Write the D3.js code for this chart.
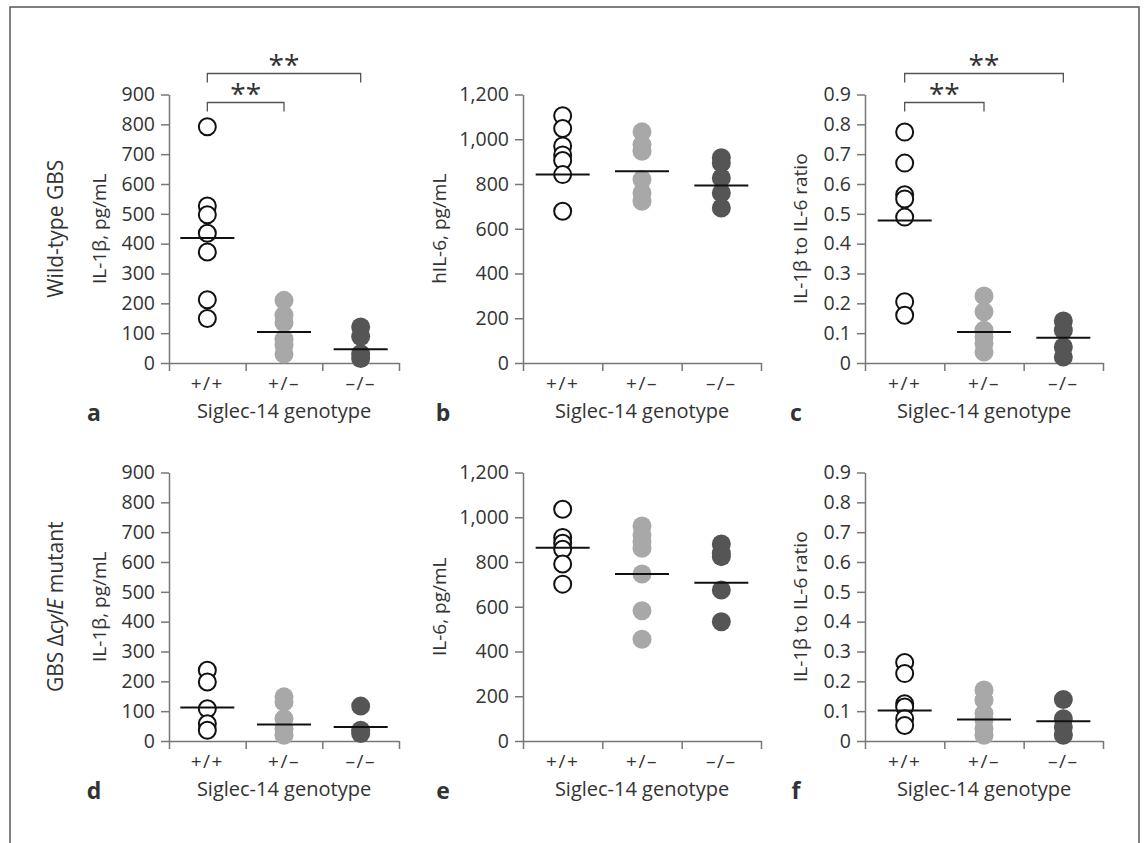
<!DOCTYPE html>
<html>
<head>
<meta charset="utf-8">
<script src="https://cdn.jsdelivr.net/npm/d3@7"></script>
<style>
  body { margin: 0; background: #fff; }
  text { font-family: "Open Sans", "Noto Sans", sans-serif; fill: #333; }
  .axis path, .axis line { stroke: #777; stroke-width: 1.5; }
  .axis text { font-size: 19.5px; fill: #333; }
</style>
</head>
<body>
<div id="chart"></div>
<script>

// genotype categories
const genotypes = ['+/+', '+/\u2013', '\u2013/\u2013'];

// panel a: IL-1b, wild-type GBS
const aWT  = [792, 526, 497, 435, 372, 212, 149];
const aHet = [210, 160, 135, 80, 60, 30];
const aKO  = [121, 89, 31, 15];
const aMed = [419, 104, 46];

// panel b: hIL-6, wild-type GBS
const bWT  = [1105, 1048, 970, 930, 905, 842, 678];
const bHet = [1033, 976, 946, 820, 760, 723];
const bKO  = [917, 894, 827, 760, 693];
const bMed = [842, 857, 793];

// panel c: ratio, wild-type GBS
const cWT  = [0.774, 0.670, 0.564, 0.550, 0.489, 0.205, 0.160];
const cHet = [0.225, 0.172, 0.110, 0.087, 0.065, 0.037];
const cKO  = [0.141, 0.110, 0.054, 0.020];
const cMed = [0.478, 0.104, 0.085];

// panel d: IL-1b, cylE mutant
const dWT  = [237, 198, 108, 58, 36];
const dHet = [148, 131, 75, 41, 19];
const dKO  = [117, 36, 25];
const dMed = [112, 55, 47];

// panel e: IL-6, cylE mutant
const eWT  = [1036, 910, 884, 857, 791, 701];
const eHet = [961, 921, 891, 861, 746, 582, 455];
const eKO  = [881, 839, 824, 675, 533];
const eMed = [864, 746, 707];

// panel f: ratio, cylE mutant
const fWT  = [0.263, 0.226, 0.125, 0.114, 0.075, 0.052];
const fHet = [0.171, 0.137, 0.092, 0.070, 0.041, 0.019];
const fKO  = [0.139, 0.075, 0.047, 0.019];
const fMed = [0.102, 0.072, 0.066];

// y ticks
const il1bTicks  = [0, 100, 200, 300, 400, 500, 600, 700, 800, 900];
const il6Ticks   = [0, 200, 400, 600, 800, 1000, 1200];
const ratioTicks = [0, 0.1, 0.2, 0.3, 0.4, 0.5, 0.6, 0.7, 0.8, 0.9];

// significance brackets (panels a and c)
const sigPairs  = [[0, 1], [0, 2]];
const sigLabels = ['**', '**'];

const W = 1144, H = 843;
const svg = d3.select('#chart').append('svg')
    .attr('width', W)
    .attr('height', H);

// outer frame
svg.append('rect')
    .attr('x', 10).attr('y', 7)
    .attr('width', 1129).attr('height', 850)
    .attr('fill', 'none')
    .attr('stroke', '#555')
    .attr('stroke-width', 1.5);

const fills = ['#fff', '#a8a8a8', '#555'];
const fmtRatio = d => d === 0 ? '0' : d3.format('.1f')(d);

const cols = [
    {x: 169, w: 230, letterX: 94, labelX: 101},
    {x: 523, w: 238, letterX: 443, labelX: 441},
    {x: 865, w: 238, letterX: 796, labelX: 802}
];
const rows = [
    {y0: 363, y1: 94.5},
    {y0: 741, y1: 472.5}
];

const panels = [
    {col: 0, row: 0, letter: 'a', data: [aWT, aHet, aKO], med: aMed, max: 900, ticks: il1bTicks, fmt: d3.format('d'), label: 'IL-1\u03b2, pg/mL', sig: true},
    {col: 1, row: 0, letter: 'b', data: [bWT, bHet, bKO], med: bMed, max: 1200, ticks: il6Ticks, fmt: d3.format(','), label: 'hIL-6, pg/mL'},
    {col: 2, row: 0, letter: 'c', data: [cWT, cHet, cKO], med: cMed, max: 0.9, ticks: ratioTicks, fmt: fmtRatio, label: 'IL-1\u03b2 to IL-6 ratio', sig: true},
    {col: 0, row: 1, letter: 'd', data: [dWT, dHet, dKO], med: dMed, max: 900, ticks: il1bTicks, fmt: d3.format('d'), label: 'IL-1\u03b2, pg/mL'},
    {col: 1, row: 1, letter: 'e', data: [eWT, eHet, eKO], med: eMed, max: 1200, ticks: il6Ticks, fmt: d3.format(','), label: 'IL-6, pg/mL'},
    {col: 2, row: 1, letter: 'f', data: [fWT, fHet, fKO], med: fMed, max: 0.9, ticks: ratioTicks, fmt: fmtRatio, label: 'IL-1\u03b2 to IL-6 ratio'}
];

panels.forEach(p => {
    const c = cols[p.col], r = rows[p.row];
    const g = svg.append('g').attr('transform', `translate(${c.x},0)`);

    const x = d3.scaleBand().domain(genotypes).range([0, c.w]);
    const xEdge = d3.scaleLinear().domain([0, 3]).range([0, c.w]);
    const y = d3.scaleLinear().domain([0, p.max]).range([r.y0, r.y1]);

    g.append('g')
        .attr('class', 'axis')
        .call(d3.axisLeft(y).tickValues(p.ticks).tickFormat(p.fmt)
            .tickSize(8).tickSizeOuter(0).tickPadding(6));

    g.append('g')
        .attr('class', 'axis')
        .attr('transform', `translate(0,${r.y0})`)
        .call(d3.axisBottom(xEdge).tickValues([0, 1, 2, 3]).tickFormat('')
            .tickSize(8).tickSizeOuter(0));

    // genotype labels
    g.selectAll('.gt')
        .data(genotypes)
        .join('text')
        .attr('x', d => x(d) + x.bandwidth() / 2)
        .attr('y', r.y0 + 27)
        .attr('text-anchor', 'middle')
        .style('font-size', '19px')
        .style('letter-spacing', '1.5px')
        .text(d => d);

    g.append('text')
        .attr('x', c.w / 2)
        .attr('y', r.y0 + 55)
        .attr('text-anchor', 'middle')
        .style('font-size', '20px')
        .text('Siglec-14 genotype');

    // points
    p.data.forEach((vals, i) => {
        const cx = x(genotypes[i]) + x.bandwidth() / 2;
        g.selectAll(null)
            .data(vals)
            .join('circle')
            .attr('cx', cx)
            .attr('cy', d => y(d))
            .attr('r', i === 0 ? 8.5 : 9.5)
            .attr('fill', fills[i])
            .attr('stroke', i === 0 ? '#111' : 'none')
            .attr('stroke-width', 2);
    });

    // median lines
    g.selectAll('.med')
        .data(p.med)
        .join('line')
        .attr('x1', (d, i) => x(genotypes[i]) + x.bandwidth() / 2 - 27)
        .attr('x2', (d, i) => x(genotypes[i]) + x.bandwidth() / 2 + 27)
        .attr('y1', d => y(d))
        .attr('y2', d => y(d))
        .attr('stroke', '#111')
        .attr('stroke-width', 2);

    // y title
    svg.append('text')
        .attr('transform', `translate(${c.labelX},${(r.y0 + r.y1) / 2}) rotate(-90)`)
        .attr('text-anchor', 'middle')
        .attr('dominant-baseline', 'middle')
        .style('font-size', '19px')
        .text(p.label);

    // panel letter
    svg.append('text')
        .attr('x', c.letterX)
        .attr('y', r.y0 + 58)
        .attr('text-anchor', 'middle')
        .style('font-size', '23px')
        .style('font-weight', 'bold')
        .text(p.letter);

    if (p.sig) {
        const levels = [r.y1 + 8, r.y1 - 21];
        sigPairs.forEach((pair, k) => {
            const xa = x(genotypes[pair[0]]) + x.bandwidth() / 2;
            const xb = x(genotypes[pair[1]]) + x.bandwidth() / 2;
            const yy = levels[k];
            g.append('path')
                .attr('d', `M${xa},${yy + 9}V${yy}H${xb}V${yy + 9}`)
                .attr('fill', 'none')
                .attr('stroke', '#555')
                .attr('stroke-width', 1.3);
            g.append('text')
                .attr('x', (xa + xb) / 2)
                .attr('y', yy + 1)
                .attr('text-anchor', 'middle')
                .style('font-size', '28px')
                .text(sigLabels[k]);
        });
    }
});

// row titles
svg.append('text')
    .attr('transform', `translate(57,${(rows[0].y0 + rows[0].y1) / 2}) rotate(-90)`)
    .attr('text-anchor', 'middle')
    .attr('dominant-baseline', 'middle')
    .style('font-size', '21px')
    .text('Wild-type GBS');

const rowTitle2 = svg.append('text')
    .attr('transform', `translate(57,${(rows[1].y0 + rows[1].y1) / 2}) rotate(-90)`)
    .attr('text-anchor', 'middle')
    .attr('dominant-baseline', 'middle')
    .style('font-size', '21px');
rowTitle2.append('tspan').text('GBS \u0394');
rowTitle2.append('tspan').style('font-style', 'italic').text('cylE');
rowTitle2.append('tspan').text(' mutant');

</script>
</body>
</html>
